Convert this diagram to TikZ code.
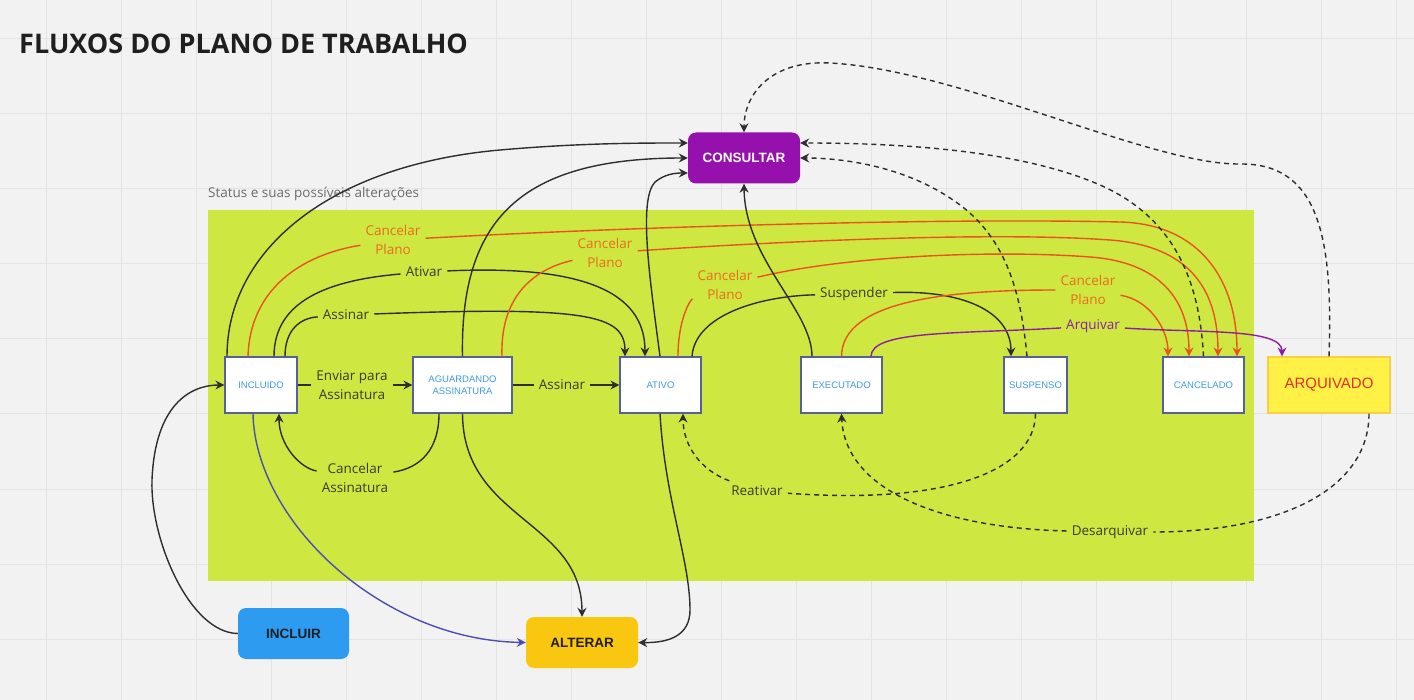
\documentclass[tikz,border=0pt]{standalone}
\usepackage{fontspec}
\setmainfont{Open Sans}
\newfontfamily\arialfont{Liberation Sans}
\usepackage{xcolor}
\usepackage{tikz}
\usetikzlibrary{arrows.meta}

\definecolor{bgGray}{HTML}{F2F2F2}
\definecolor{gridGray}{HTML}{E4E4E4}
\definecolor{limeArea}{HTML}{CEE741}
\definecolor{boxEdge}{HTML}{55609C}
\definecolor{boxText}{HTML}{3D9BE4}
\definecolor{lineDark}{HTML}{2E2E2E}
\definecolor{labelDark}{HTML}{3A3D30}
\definecolor{cancelLine}{HTML}{E9531E}
\definecolor{cancelText}{HTML}{EC6B1C}
\definecolor{archPurple}{HTML}{8E1FA3}
\definecolor{consultPurple}{HTML}{9510AC}
\definecolor{incluirBlue}{HTML}{2D9BF0}
\definecolor{alterarYellow}{HTML}{FAC710}
\definecolor{arqYellow}{HTML}{FFF145}
\definecolor{arqEdge}{HTML}{F7D046}
\definecolor{arqRed}{HTML}{E1312C}
\definecolor{editBlue}{HTML}{4B4FB2}

\begin{document}
\begin{tikzpicture}[x=1pt, y=-1pt,
    status/.style={draw=boxEdge, line width=1.2pt, fill=white, minimum height=56pt,
      text=boxText, font=\arialfont\fontsize{9.5}{11.5}\selectfont, align=center, inner sep=1pt},
    action/.style={rounded corners=8pt, minimum width=111pt, minimum height=51pt,
      font=\arialfont\bfseries\fontsize{13.5}{16}\selectfont, text=black!88},
    lbl/.style={font=\fontsize{13.5}{19}\selectfont, align=center, text=labelDark, inner sep=5pt},
    flow/.style={draw=lineDark, line width=1.4pt, -{Stealth[length=9pt,width=9pt,inset=3pt]}},
    back/.style={flow, dash pattern=on 5pt off 4pt},
    cancel/.style={flow, draw=cancelLine}]

    \useasboundingbox (0,0) rectangle (1414,700);
    \fill[bgGray] (0,0) rectangle (1414,700);
    \foreach \k in {0,...,18}
        \draw[gridGray, line width=1pt] ({46.7+75*\k},0) -- ({46.7+75*\k},700);
    \foreach \k in {0,...,8}
        \draw[gridGray, line width=1pt] (0,{39+75*\k}) -- (1414,{39+75*\k});

    \node[anchor=west, inner sep=0pt, font=\bfseries\fontsize{27}{32}\selectfont, text=black!88] (title) at (19,44) {FLUXOS DO PLANO DE TRABALHO};
    \node[anchor=west, inner sep=0pt, font=\fontsize{13.5}{16}\selectfont, text=black!58] (area) at (208,194) {Status e suas possíveis alterações};
    \fill[limeArea] (208,210) rectangle (1254,581);

    % status
    \node[status, minimum width=72pt] (incluido) at (261,385) {INCLUIDO};
    \node[status, minimum width=99pt] (aguardando) at (462.5,385) {AGUARDANDO\\ASSINATURA};
    \node[status, minimum width=81pt] (ativo) at (660.5,385) {ATIVO};
    \node[status, minimum width=81pt] (executado) at (841.5,385) {EXECUTADO};
    \node[status, minimum width=63pt] (suspenso) at (1035.5,385) {SUSPENSO};
    \node[status, minimum width=81pt] (cancelado) at (1203.5,385) {CANCELADO};
    \node[status, draw=arqEdge, fill=arqYellow, text=arqRed, font=\arialfont\fontsize{15}{17}\selectfont, minimum width=122pt] (arquivado) at (1329,385) {ARQUIVADO};

    % acoes
    \node[action, fill=consultPurple, text=white, minimum width=112pt] (consultar) at (744,158) {CONSULTAR};
    \node[action, fill=incluirBlue] (incluir) at (293.5,633.5) {INCLUIR};
    \node[action, fill=alterarYellow, minimum width=112pt] (alterar) at (582,642.5) {ALTERAR};

    % rotulos
    \node[lbl] (lblEnviar) at (352,385) {Enviar para\\Assinatura};
    \node[lbl] (lblCancAss) at (355,478) {Cancelar\\Assinatura};
    \node[lbl] (lblAssinar) at (346,315) {Assinar};
    \node[lbl] (lblAtivar) at (424,272) {Ativar};
    \node[lbl] (lblAssinarB) at (562,385) {Assinar};
    \node[lbl, text=cancelText] (lblPlanoA) at (393,240) {Cancelar\\Plano};
    \node[lbl, text=cancelText] (lblPlanoB) at (605,253) {Cancelar\\Plano};
    \node[lbl, text=cancelText] (lblPlanoC) at (725,285) {Cancelar\\Plano};
    \node[lbl, text=cancelText] (lblPlanoD) at (1088,290) {Cancelar\\Plano};
    \node[lbl] (lblSusp) at (854,294) {Suspender};
    \node[lbl, text=archPurple] (lblArq) at (1093,326) {Arquivar};
    \node[lbl] (lblReat) at (757,491) {Reativar};
    \node[lbl] (lblDesarq) at (1110,532) {Desarquivar};

    % fluxo principal
    \draw[flow] (incluir.west) .. controls (190,633) and (150,540) .. (152,480) .. controls (155,405) and (190,385) .. (incluido.west);
    \draw[flow] (incluido) -- (lblEnviar) -- (aguardando);
    \draw[flow] (aguardando) -- (lblAssinarB) -- (ativo);
    \draw[flow] ([xshift=-23.5pt]aguardando.south) .. controls (439,450) and (420,468) .. (lblCancAss) .. controls (300,468) and (279,445) .. ([xshift=18pt]incluido.south);
    \draw[flow] ([xshift=24pt]incluido.north) .. controls (285,330) and (300,318) .. (lblAssinar) .. controls (590,306) and (625,315) .. ([xshift=-35.5pt]ativo.north);
    \draw[flow] ([xshift=13pt]incluido.north) .. controls (274,300) and (330,280) .. (lblAtivar) .. controls (600,264) and (645,300) .. ([xshift=-15.5pt]ativo.north);
    \draw[flow] ([xshift=31.5pt]ativo.north) .. controls (695,315) and (760,296) .. (lblSusp) .. controls (960,290) and (1011,310) .. ([xshift=-24.5pt]suspenso.north);

    % cancelar plano
    \draw[cancel] ([xshift=-13pt]incluido.north) .. controls (250,290) and (300,255) .. (lblPlanoA) .. controls (650,226) and (950,218) .. (1120,222) .. controls (1200,224) and (1237,280) .. ([xshift=33.5pt]cancelado.north);
    \draw[cancel] ([xshift=39.5pt]aguardando.north) .. controls (500,300) and (530,270) .. (lblPlanoB) .. controls (800,240) and (1000,232) .. (1110,240) .. controls (1190,246) and (1218,290) .. ([xshift=14.5pt]cancelado.north);
    \draw[cancel] ([xshift=17.5pt]ativo.north) .. controls (678,320) and (690,300) .. (lblPlanoC) .. controls (850,255) and (1000,250) .. (1090,257) .. controls (1160,262) and (1189,300) .. ([xshift=-14.5pt]cancelado.north);
    \draw[cancel] (executado.north) .. controls (842,300) and (950,290) .. (lblPlanoD) .. controls (1150,300) and (1168,330) .. ([xshift=-35.5pt]cancelado.north);

    \draw[flow, draw=archPurple] ([xshift=29.5pt]executado.north) .. controls (871,330) and (960,334) .. (lblArq) .. controls (1200,333) and (1282,328) .. ([xshift=-47pt]arquivado.north);

    % retornos
    \draw[back] (suspenso.south) .. controls (1035,470) and (950,505) .. (lblReat) .. controls (700,470) and (683,445) .. ([xshift=22.5pt]ativo.south);
    \draw[back] ([xshift=40pt]arquivado.south) .. controls (1369,490) and (1280,532) .. (lblDesarq) .. controls (940,528) and (845,490) .. (executado.south);

    % consultar
    \draw[flow] ([xshift=-34pt]incluido.north) .. controls (227,250) and (330,165) .. (500,150) .. controls (580,143) and (640,143) .. ([yshift=15pt]consultar.west);
    \draw[flow] (aguardando.north) .. controls (460,220) and (520,158) .. (consultar.west);
    \draw[flow] ([xshift=-0.5pt]ativo.north) .. controls (650,280) and (638,200) .. (655,182) .. controls (665,174) and (675,173) .. ([yshift=-15pt]consultar.west);
    \draw[flow] ([xshift=-29.5pt]executado.north) .. controls (812,310) and (745,260) .. (consultar.south);
    \draw[back] (arquivado.north) .. controls (1333,240) and (1320,163) .. (1240,164) .. controls (1150,165) and (960,70) .. (830,63) .. controls (770,60) and (744,95) .. (consultar.north);
    \draw[back] (cancelado.north) .. controls (1200,290) and (1180,220) .. (1100,185) .. controls (1020,150) and (900,143) .. ([yshift=15pt]consultar.east);
    \draw[back] ([xshift=-8.5pt]suspenso.north) .. controls (1020,280) and (1000,230) .. (950,198) .. controls (900,165) and (840,158) .. (consultar.east);

    % alterar
    \draw[flow, draw=editBlue] ([xshift=-8pt]incluido.south) .. controls (255,520) and (380,640) .. (alterar.west);
    \draw[flow] (aguardando.south) .. controls (463,520) and (582,520) .. (alterar.north);
    \draw[flow] ([xshift=-0.5pt]ativo.south) .. controls (665,500) and (690,560) .. (690,610) .. controls (690,635) and (670,643) .. (alterar.east);
\end{tikzpicture}
\end{document}
